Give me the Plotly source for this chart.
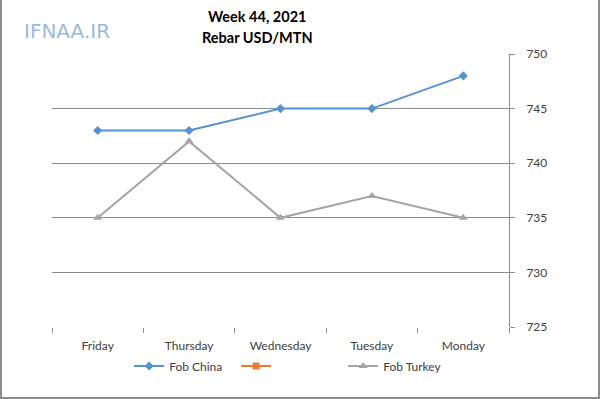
import plotly.graph_objects as go

days = ["Friday", "Thursday", "Wednesday", "Tuesday", "Monday"]
fob_china = [743, 743, 745, 745, 748]
fob_blank = [None, None, None, None, None]
fob_turkey = [735, 742, 735, 737, 735]
y_ticks = [725, 730, 735, 740, 745, 750]

fig = go.Figure()
fig.add_trace(go.Scatter(x=days, y=fob_china, name="Fob China", mode="lines+markers",
                         line=dict(color="#5593d0", width=2),
                         marker=dict(symbol="diamond", size=7, color="#5593d0")))
fig.add_trace(go.Scatter(x=days, y=fob_blank, name="", mode="lines+markers",
                         line=dict(color="#ed7d31", width=2),
                         marker=dict(symbol="square", size=7, color="#ed7d31")))
fig.add_trace(go.Scatter(x=days, y=fob_turkey, name="Fob Turkey", mode="lines+markers",
                         line=dict(color="#a5a5a5", width=2),
                         marker=dict(symbol="triangle-up", size=8, color="#a5a5a5")))

font = "Lato, 'Open Sans', sans-serif"
fig.update_layout(
    width=600, height=399,
    margin=dict(l=52, r=91, t=54, b=72),
    paper_bgcolor="white", plot_bgcolor="white",
    font=dict(family=font, size=12, color="#404040"),
    showlegend=True,
    legend=dict(orientation="h", x=0.52, xanchor="center", y=-0.09, yanchor="top",
                font=dict(size=12, color="#404040"), itemwidth=30,
                entrywidth=62, entrywidthmode="pixels",
                bgcolor="rgba(0,0,0,0)", traceorder="normal"),
    annotations=[
        dict(text="<b>Week 44, 2021</b>", xref="paper", yref="paper", x=0.449, y=1.0,
             yshift=48, showarrow=False, font=dict(size=14.5, color="#000000", family=font)),
        dict(text="<b>Rebar USD/MTN</b>", xref="paper", yref="paper", x=0.449, y=1.0,
             yshift=27, showarrow=False, font=dict(size=14.5, color="#000000", family=font)),
        dict(text="IFNAA.IR", xref="paper", yref="paper", x=-0.066, y=1.0, xanchor="left",
             yshift=37, showarrow=False,
             font=dict(size=20, color="#9ab8dc", family="'DejaVu Sans', sans-serif")),
    ],
    shapes=[
        dict(type="rect", xref="paper", yref="paper", x0=-51/457, x1=(600-53)/457,
             y0=-71/273, y1=(399-55)/273,
             line=dict(color="#8c8c8c", width=2), fillcolor="rgba(0,0,0,0)"),
    ],
)
fig.update_xaxes(type="category", range=[-0.5, 4.5], showgrid=False,
                 ticks="outside", tickson="boundaries", ticklen=5, tickcolor="#8c8c8c",
                 ticklabelstandoff=10,
                 showline=False, zeroline=False, tickfont=dict(size=12, color="#404040"))
fig.update_yaxes(side="right", range=[725, 750], tickvals=y_ticks, showgrid=True,
                 gridcolor="#8c8c8c", gridwidth=1, showline=True, linecolor="#8c8c8c",
                 ticks="outside", ticklen=5, tickcolor="#8c8c8c", zeroline=False,
                 ticklabelstandoff=9,
                 tickfont=dict(size=12, color="#404040"))

fig.write_html("out.html", config={"displayModeBar": False},
               post_script="document.body.style.margin='0';")
